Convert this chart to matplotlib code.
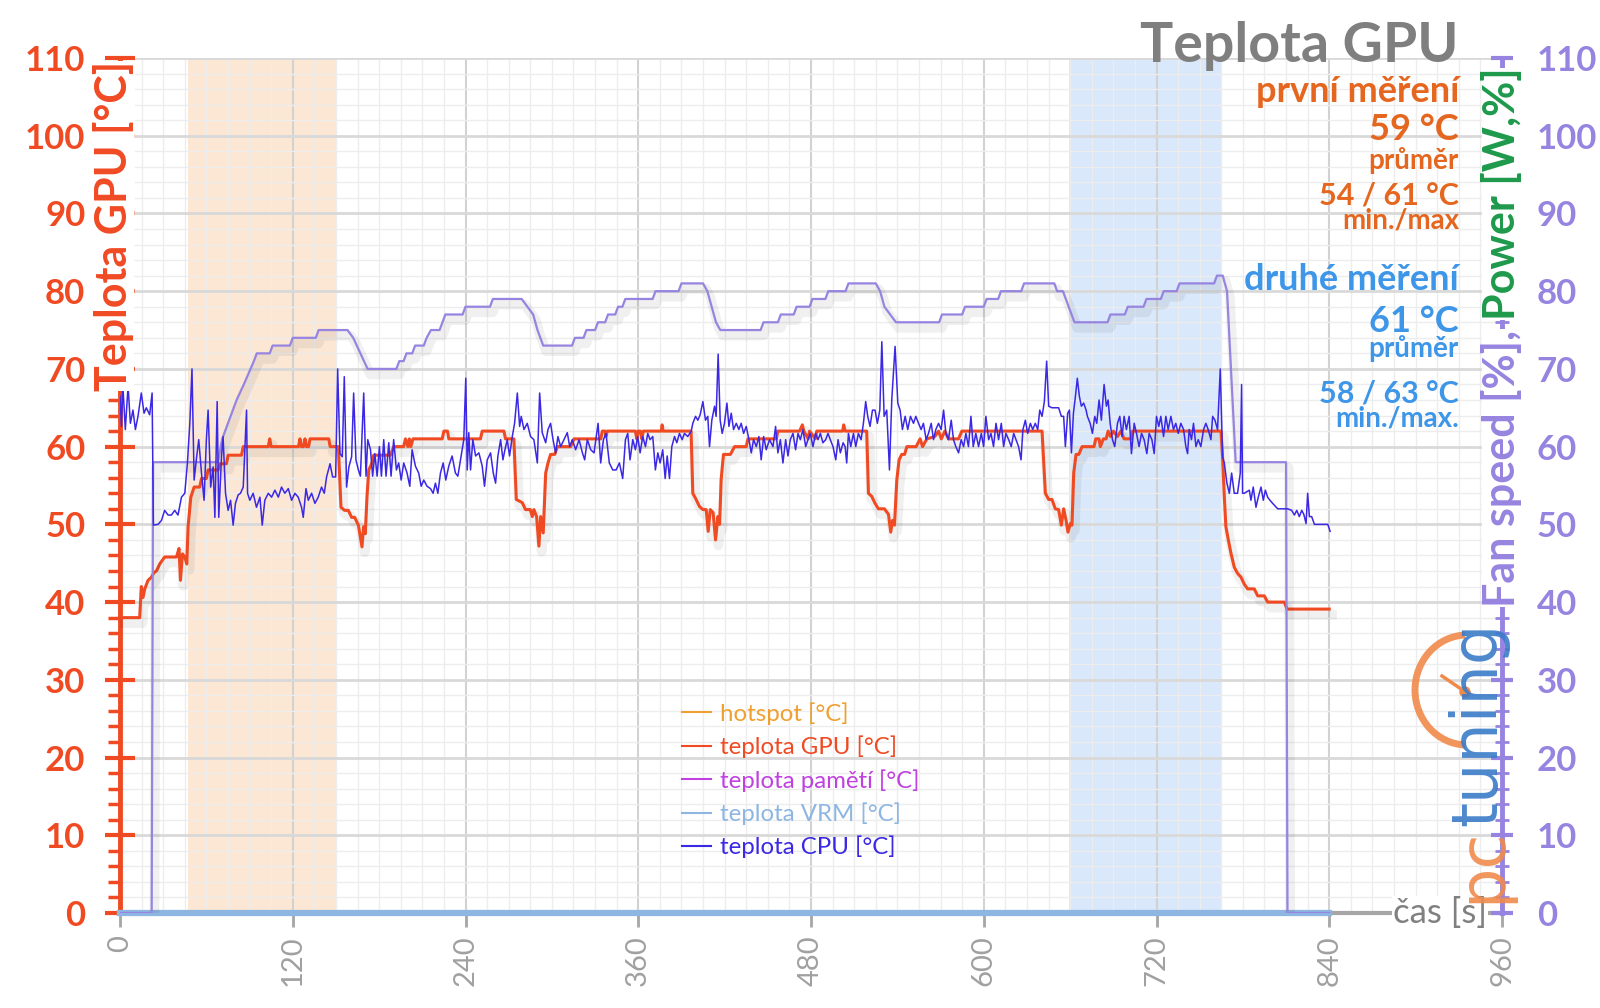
import matplotlib
matplotlib.use("Agg")
import matplotlib.pyplot as plt
import matplotlib.patheffects as pe
from matplotlib.patches import Arc, Circle
from matplotlib.lines import Line2D
from matplotlib.ticker import MultipleLocator
from matplotlib.transforms import IdentityTransform

plt.rcParams['font.family'] = ['Lato', 'DejaVu Sans']

# teplota GPU [°C] (čas s, hodnota)
gpu_pts = [(0, 38), (13.7, 38), (14.8, 42), (16, 40.6), (17.2, 41.7), (19.5, 42.8), (21.8, 43.2),
           (23.6, 43.8), (25.3, 44), (27.6, 44.9), (31, 45.8), (39.2, 45.8), (41, 46.9), (42, 42.8),
           (43.4, 46.2), (45, 45.8), (46.4, 44.9), (47.3, 49.7), (49.2, 53.5), (51.5, 54.8), (55.4, 54.8),
           (56.6, 55.9), (60, 55.9), (61.2, 57), (68.2, 57), (69.3, 57.8), (74, 57.8), (75.1, 58.9),
           (84.4, 58.9), (85.6, 60), (103, 60), (104, 61), (105, 60), (124, 60), (125, 61), (126, 60),
           (127.5, 60), (128.5, 61), (129.5, 60), (131, 60), (132, 61), (145, 61), (146, 60), (151.7, 60),
           (153.5, 52.2), (156, 51.8), (158.6, 51.8), (160.9, 50.9), (163, 50.9), (165.6, 49.9), (168.1, 47.1),
           (169.2, 49.7), (170.4, 48.8), (171.6, 53.6), (172.8, 57), (175, 57.9), (176.2, 58.9), (187.8, 58.9),
           (190.2, 60), (197, 60), (198.3, 61), (200, 60), (201, 61), (202, 60), (203.5, 61), (223.8, 61),
           (225, 62), (227.5, 62), (228.4, 61), (250.4, 61), (251.6, 62), (266.7, 62), (267.8, 61),
           (273.6, 61), (275.3, 53.2), (279.4, 52.8), (281.7, 51.9), (285, 51.9), (286.4, 51), (287.5, 51.9),
           (289.4, 51), (291, 47.2), (292.2, 51), (294, 48.9), (295.7, 56.6), (297.3, 57.9), (299.1, 59),
           (302, 59), (303.8, 60), (313, 60), (315.4, 61), (334, 61), (335, 62), (337, 62), (337.6, 61.3),
           (338.5, 62), (358, 62), (359, 61), (360, 62), (361.5, 62), (362.5, 61), (363.5, 62), (376, 62),
           (376.6, 62.8), (377.3, 62), (396.7, 62), (397.9, 54), (400.2, 53.2), (402.5, 52.3), (404.9, 51.9),
           (407.2, 51.9), (408.6, 49.1), (410, 51.9), (412, 51.5), (413.7, 48), (415.3, 51), (416.5, 50),
           (417.6, 55.8), (419.2, 59), (424, 59), (426.9, 60), (435, 60), (436.2, 61), (455.9, 61), (457, 62),
           (472.1, 62), (474, 62.8), (475, 62), (478, 61), (479, 62), (483, 61), (484, 62), (502, 62),
           (502.7, 62.8), (503.7, 62), (518.7, 62), (519.9, 54), (522.2, 53.6), (524.5, 52.7), (526.8, 52),
           (531, 52), (533.8, 51.3), (535.4, 49), (536.6, 50.5), (538, 49.9), (539.6, 55.7), (541.2, 58.3),
           (543, 59), (545, 59), (546.6, 60), (553, 60), (555.8, 61), (557.5, 60), (560.5, 61), (566, 61.3),
           (568.6, 62), (570.5, 61), (573, 62), (575.5, 61), (582.5, 61), (584.8, 62), (640.5, 62),
           (642.8, 54), (645.1, 53.2), (647.4, 53.2), (649.7, 52), (652, 51.9), (653.9, 49.9), (655.5, 52),
           (657.2, 50.5), (658.5, 49), (660.2, 50.1), (661.3, 49.9), (662.5, 56.6), (664.1, 59), (666, 59),
           (668.3, 60), (676.6, 60), (677.8, 61), (680.1, 61), (681, 60), (683.1, 61), (685, 61), (686.4, 62),
           (688, 61.3), (690.1, 62), (692.9, 61.3), (695.2, 62), (697.5, 61), (702.1, 61), (703.3, 62),
           (764.8, 62), (765.9, 58.7), (767.1, 53.6), (768.2, 49.7), (769.9, 48), (771.7, 46.3), (774, 44.5),
           (776.3, 43.7), (778.7, 43.2), (781, 42.3), (783.3, 41.7), (787.9, 41.7), (790.3, 40.8),
           (794.9, 40.8), (797.2, 40), (808.8, 40), (810.7, 39.1), (840, 39.1)]

# teplota CPU [°C]
cpu_pts = [(0, 66.5), (1, 62.6), (2, 67.8), (3.7, 62.2), (5.6, 67.8), (7.2, 63), (9, 64.7), (10.7, 62.2),
           (12.5, 63.9), (14.8, 66.9), (16.7, 64.3), (18.3, 65), (20.6, 64.1), (22.3, 66.9), (23.2, 49.9),
           (26.4, 50), (28.8, 50.5), (31, 51.8), (33.4, 51.2), (35.7, 51.2), (38, 51.8), (40.3, 51.2),
           (42.7, 53.5), (45, 54), (46.8, 57.8), (48.5, 63), (50, 70), (51.5, 55.7), (53, 58.3), (54.7, 60.9),
           (56.6, 56.6), (58.4, 53.1), (60, 60.9), (61.2, 64.7), (63, 54.8), (64.7, 57.4), (65.9, 50.9),
           (67.5, 65.8), (68.6, 50.9), (70.5, 58.7), (71.6, 61.3), (73.3, 54), (75.1, 51.8), (76.8, 53.1),
           (78.6, 49.9), (80.2, 52.7), (82.1, 53.8), (83.7, 54), (85.6, 54.8), (86.7, 59.6), (87.9, 64.7),
           (88.6, 54), (90.2, 53.1), (92.5, 54), (94.8, 52.2), (97.2, 53.5), (98.8, 49.9), (100.6, 53.1),
           (103, 54), (105.3, 53.5), (107.6, 54.4), (110, 53.5), (112.2, 54.8), (114.5, 54), (116.9, 54.6),
           (119.2, 53.1), (121.5, 54), (123.8, 53.5), (126.1, 52.2), (127.3, 50.9), (129.2, 54.6),
           (130.8, 53.1), (133.1, 54), (135.4, 52.7), (137.7, 53.5), (140, 54.8), (141.9, 54), (143.5, 56.1),
           (145.9, 57.8), (147.7, 56.1), (149.8, 56.1), (151.2, 70), (152.8, 59.1), (154.4, 58.7),
           (155.8, 69), (157.4, 54.8), (159, 57.4), (160.9, 58.7), (162.3, 66.9), (163.9, 58.3), (165.6, 57),
           (167, 56.2), (169.3, 66.9), (170.9, 56.2), (172.1, 60.9), (174, 59.6), (175.5, 56.2), (177, 59.1),
           (178.6, 56.2), (180.2, 60), (181.6, 56.2), (183.2, 60.9), (184.8, 56.2), (186.7, 60.5),
           (188.3, 56.2), (190.1, 60.9), (192, 57), (193.6, 57.9), (195.3, 55.7), (197.1, 57.9), (199.4, 56.6),
           (201.3, 54.9), (202.9, 59.6), (205.2, 57.5), (207.5, 56.6), (209.2, 54.9), (211, 55.7),
           (213.3, 54.9), (215.7, 54.6), (217.5, 54), (219.1, 55.3), (220.8, 54), (222.6, 56.6), (224.5, 57.9),
           (226.3, 55.7), (228.4, 57.5), (230.7, 58.8), (233, 56.6), (234.7, 56.2), (236.5, 58.3),
           (238.8, 60.9), (240.2, 68.8), (241.2, 57), (242.3, 61.8), (243.5, 57), (245.1, 60.9), (247, 58.8),
           (249.3, 59.2), (251.6, 57.5), (253.2, 54.9), (255.1, 58.3), (257.4, 59.2), (259.3, 56.6),
           (260.9, 55.3), (262.5, 58.8), (264.4, 60.9), (266, 58.3), (267.4, 59.6), (269, 60.9), (270.6, 58.8),
           (272.5, 61.3), (274.1, 63), (276, 66.9), (277.6, 62.6), (278.7, 63.9), (280.6, 62.2), (282.9, 63),
           (285.2, 61.3), (287.5, 60.9), (289.9, 57.9), (291.5, 66.9), (293.3, 61.8), (295.7, 60.5),
           (297.3, 62.2), (299.1, 63), (300.8, 60.9), (302.6, 59.2), (304.2, 61.3), (306.1, 60), (308.4, 60.9),
           (310.7, 61.8), (312.4, 60), (314.2, 60.9), (316.5, 59.6), (318.9, 60.9), (321.2, 59.2),
           (322.8, 58.3), (324.6, 60.9), (327, 59.6), (329.3, 59.2), (332.1, 63), (333.9, 57.9), (335.8, 60.9),
           (337.6, 61.7), (339.9, 57.9), (342.3, 57), (344.6, 57), (346.9, 57.9), (349.2, 55.9), (351.1, 60.9),
           (352.7, 61.7), (354.3, 58.3), (356.2, 60.9), (358, 59.6), (359.6, 61.3), (361.3, 59.2),
           (363.1, 61.3), (365, 60), (366.6, 61.7), (368.2, 60.9), (370.1, 61.3), (371.9, 57), (373.6, 59.2),
           (375.2, 57.9), (377, 59.6), (378.7, 55.9), (380.1, 58.8), (381.7, 55.9), (383.3, 60), (385.2, 61.3),
           (386.8, 60.5), (388.6, 61.7), (390.5, 60.9), (392.1, 61.7), (394.4, 61.3), (396.8, 62), (397.9, 63),
           (399.8, 63.9), (401.4, 63.4), (403, 64.1), (404.9, 65.8), (406.7, 63.4), (408.3, 63.9), (409.5, 60),
           (411.1, 63.4), (413, 65.2), (414.1, 63.9), (415.5, 71.9), (416.9, 63.4), (418.3, 61.7), (419.9, 63),
           (421.6, 65.6), (423, 62.6), (424.6, 64.3), (426.2, 62.2), (428.1, 63), (429.9, 62.2), (431.5, 63),
           (433.2, 61.7), (435, 62.6), (436.9, 60.9), (438.5, 59.2), (440.1, 60.9), (442, 60), (443.8, 61.3),
           (445.4, 58.3), (447.1, 61.3), (448.9, 59.6), (451.2, 60.9), (453.6, 60), (455.4, 62.6), (457, 59.2),
           (458.7, 60.9), (460.5, 57.9), (462.4, 60.9), (464, 58.8), (465.6, 60.9), (467.5, 61.7),
           (469.3, 59.6), (471, 61.7), (472.6, 60.9), (474.4, 62.2), (476.3, 60), (477.9, 60.9), (479.5, 61.7),
           (481.4, 60), (483.2, 61.7), (484.9, 60.9), (486.5, 61.7), (488.3, 60.5), (490.2, 60.9),
           (491.8, 61.7), (493.4, 60.9), (495.3, 60), (497.2, 58.3), (498.8, 60.9), (500.4, 59.2),
           (502.3, 60.5), (503.7, 60), (504.8, 57.9), (506, 61.7), (507.6, 60), (509.5, 61.7), (511.1, 60),
           (512.9, 61.7), (514.8, 60.9), (516.4, 63), (518, 65.8), (519.4, 63.9), (521, 62.6), (522.7, 64.7),
           (524.5, 64.7), (526.1, 63), (527.8, 64.7), (529.2, 73.5), (530.8, 63.9), (532.6, 64.7), (534.5, 57),
           (536.1, 66), (538.4, 72.9), (540.3, 65.6), (541.9, 64.7), (543.5, 62.2), (545.4, 63.9),
           (547.2, 62.2), (549.1, 63.9), (551.2, 63), (552.8, 63.9), (554.7, 63), (556.5, 62.2), (558.1, 63),
           (560, 60.9), (561.6, 61.7), (563.5, 63), (565.1, 60.9), (566.7, 62.2), (568.6, 63), (570.4, 62.2),
           (572.1, 64.7), (573.7, 61.7), (575.5, 60.9), (577.4, 63.4), (579, 60.9), (580.6, 60), (582.5, 59.2),
           (584.3, 60.9), (586, 60), (587.6, 61.7), (589.4, 60), (591.1, 63.9), (592.7, 60), (594.5, 61.7),
           (596.4, 60), (598.3, 61.7), (599.9, 60), (601.5, 63.9), (603.4, 60.9), (605, 61.7), (606.8, 60),
           (608.5, 63), (610.3, 60.9), (612.2, 63), (613.8, 60), (615.4, 61.7), (617.3, 60.9), (619.1, 60),
           (620.8, 61.7), (622.4, 60.9), (624.2, 60), (625.9, 58.3), (627.2, 62.2), (628.9, 63.4),
           (630.5, 61.7), (632.4, 63), (634, 62.2), (635.8, 63), (637.5, 62.2), (638.9, 64.7), (640.5, 63.9),
           (642.1, 65.8), (643.7, 71), (645.1, 65.2), (647.4, 65), (652, 65), (653.9, 63.9), (655.5, 63.9),
           (656.7, 60), (658.3, 64.3), (659.5, 64.7), (660.9, 59.2), (662.3, 64.3), (663.7, 66.5), (665, 68.8),
           (666.4, 66.5), (667.8, 65.2), (669.4, 65.6), (671.1, 64.7), (672, 63.9), (673.9, 63), (675.5, 61.7),
           (677.1, 63.9), (678.5, 63), (680.1, 66), (681.7, 63.4), (683.6, 68), (685.2, 65.2), (686.4, 66),
           (687.8, 63), (689.4, 60.9), (691, 60), (692.9, 63), (694.5, 63.9), (696.1, 61.3), (697.5, 63.9),
           (699.1, 62.2), (701, 63.9), (702.6, 59.1), (704.5, 63), (706.1, 61.7), (707.9, 60), (709.6, 61.7),
           (711.4, 60.9), (713.3, 59.1), (714.9, 61.7), (716.8, 60.9), (718.4, 59.1), (720, 63.9),
           (721.6, 62.6), (723, 63.9), (724.9, 61.3), (726.5, 63.9), (728.1, 62.2), (730, 63.9), (731.8, 62.2),
           (733.4, 63), (735.1, 61.7), (736.9, 63), (738.8, 62.2), (740.4, 60), (741.6, 59.1), (742.7, 62.2),
           (744.3, 60.9), (745.7, 63), (747.4, 60), (749, 60.9), (750.8, 60), (752.7, 62.2), (754.3, 63),
           (755.9, 62.2), (757.8, 60.9), (759, 63.9), (760.6, 63.4), (762.4, 62.2), (764.3, 70), (765.9, 58.7),
           (767.1, 57.9), (768.9, 55.3), (770.6, 54), (772.2, 56.6), (774, 54), (776.3, 54), (778.2, 56.6),
           (779.1, 68), (779.8, 54), (781, 54), (784.5, 54.4), (785.6, 53.1), (787.2, 54.8), (789.1, 52.2),
           (790.7, 53.5), (792.6, 54.8), (794.2, 53.1), (795.6, 54.4), (797.2, 53.5), (798.8, 53.1),
           (800.7, 52.7), (804.2, 52), (811.1, 52), (813.9, 51.8), (815.8, 51.2), (817.4, 51.8), (819.2, 51),
           (820.9, 51.8), (822.3, 51.3), (823.9, 50.1), (825, 54), (826.2, 51), (827.8, 51), (829.7, 50),
           (839, 50), (840.6, 49.1)]

# Fan speed [%] (pravá osa)
fan_pts = [(0, 0), (22, 0), (23, 58), (68, 58), (71, 61), (74, 62.5), (81, 66), (86, 68), (93, 71), (95, 72),
           (104, 72), (106, 73), (118, 73), (120, 74), (136, 74), (138, 75), (158, 75), (162, 74), (167, 72),
           (172, 70), (192, 70), (194, 71), (197, 71), (199, 72), (203, 72), (205, 73), (211, 73), (213, 74),
           (216, 75), (222, 75), (224, 76), (226, 77), (238, 77), (240, 78), (257, 78), (259, 79), (279, 79),
           (283, 78), (287, 77), (290, 75), (294, 73), (314, 73), (316, 74), (322, 74), (324, 75), (330, 75),
           (332, 76), (337, 76), (339, 77), (344, 77), (346, 78), (349, 78), (351, 79), (370, 79), (372, 80),
           (388, 80), (390, 81), (405, 81), (408, 80), (411, 78), (414, 76), (417, 75), (445, 75), (447, 76),
           (457, 76), (459, 77), (468, 77), (470, 78), (479, 78), (481, 79), (490, 79), (492, 80), (504, 80),
           (506, 81), (525, 81), (528, 80), (531, 78), (535, 77), (539, 76), (569, 76), (571, 77), (585, 77),
           (587, 78), (600, 78), (602, 79), (610, 79), (612, 80), (626, 80), (628, 81), (649, 81), (651, 80),
           (655, 80), (658, 78.5), (663, 76), (686, 76), (688, 77), (698, 77), (700, 78), (711, 78), (713, 79),
           (723, 79), (725, 80), (734, 80), (736, 81), (760, 81), (762, 82), (766, 82), (769, 80), (775, 58),
           (810, 58), (811, 0), (840, 0)]

# teplota VRM [°C]
vrm_t = [0, 840]
vrm_v = [0, 0]

shade_first = (47.5, 150.5)
shade_second = (659.5, 765)

RED = '#F04A23'
PURPLE = '#9684E0'
CPU_C = '#3B28E4'
VRM_C = '#8DB6E2'
ORANGE_T = '#E5661E'
BLUE_T = '#3D96E8'
GREEN = '#1E9A4C'
GRAY = '#7F7F7F'

W, H = 1600, 1008
fig = plt.figure(figsize=(W / 100, H / 100), dpi=100)
ax = fig.add_axes([120 / W, 1 - 913 / H, (1502 - 120) / W, (913 - 58) / H])

ax.axvspan(*shade_first, color='#FCE7D4', zorder=0.3, lw=0)
ax.axvspan(*shade_second, color='#D9E8FA', zorder=0.3, lw=0)

shadow = [pe.SimpleLineShadow(offset=(2, -4), alpha=0.06, linewidth=7), pe.Normal()]

ax.plot(vrm_t, vrm_v, color=VRM_C, lw=4.5, zorder=3, clip_on=False)
gt, gv = zip(*gpu_pts)
ax.plot(gt, gv, color=RED, lw=2.2, zorder=4, path_effects=shadow)
ct, cv = zip(*cpu_pts)
ax.plot(ct, cv, color=CPU_C, lw=1.1, zorder=5)
ft, fv = zip(*fan_pts)
ax.plot(ft, fv, color=PURPLE, lw=1.6, zorder=4.5, path_effects=shadow)

ax.set_xlim(0, 960)
ax.set_ylim(0, 110)
ax.set_axisbelow(True)
ax.xaxis.set_major_locator(MultipleLocator(120))
ax.xaxis.set_minor_locator(MultipleLocator(15))
ax.yaxis.set_major_locator(MultipleLocator(10))
ax.yaxis.set_minor_locator(MultipleLocator(2))
ax.grid(which='minor', color='#EDEDED', lw=1)
ax.grid(which='major', axis='y', color='#D9D9D9', lw=2)
ax.grid(which='major', axis='x', color='#D2D2D2', lw=1.5)

ax.spines['top'].set_visible(False)
ax.spines['right'].set_visible(False)
ax.spines['left'].set_color(RED)
ax.spines['left'].set_linewidth(3.5)
ax.spines['bottom'].set_color('#A6A6A6')
ax.spines['bottom'].set_linewidth(3)

ax.tick_params(axis='y', which='major', direction='inout', length=22, width=3, color=RED,
               labelcolor=RED, labelsize=25, pad=14)
ax.tick_params(axis='y', which='minor', direction='out', length=9, width=2.5, color=RED)
ax.tick_params(axis='x', which='major', direction='out', length=10, width=2, color='#A6A6A6',
               labelcolor='#A0A0A0', labelsize=21, labelrotation=90, pad=6)
ax.tick_params(axis='x', which='minor', length=0)
for lab in ax.get_yticklabels():
    lab.set_fontweight('bold')

ax2 = ax.twinx()
ax2.set_ylim(0, 110)
ax2.yaxis.set_major_locator(MultipleLocator(10))
ax2.yaxis.set_minor_locator(MultipleLocator(2))
for s in ['top', 'left', 'bottom']:
    ax2.spines[s].set_visible(False)
ax2.spines['right'].set_color(PURPLE)
ax2.spines['right'].set_linewidth(3.5)
ax2.tick_params(axis='y', which='major', direction='inout', length=16, width=3, color=PURPLE,
                labelcolor=PURPLE, labelsize=25, pad=17)
ax2.tick_params(axis='y', which='minor', direction='inout', length=10, width=2, color=PURPLE)
for lab in ax2.get_yticklabels():
    lab.set_fontweight('bold')

# axis titles (cover the spines, as in the original)
box = dict(facecolor='white', edgecolor='none', pad=0)
fig.text(114 / W, 1 - 226 / H, 'Teplota GPU [°C]', rotation=90, color=RED, fontsize=31,
         fontweight='bold', ha='center', va='center', bbox=box)
fig.text(1502 / W, 1 - 194 / H, 'Power [W,%]', rotation=90, color=GREEN, fontsize=31,
         fontweight='bold', ha='center', va='center', bbox=box)
fig.text(1502 / W, 1 - 468 / H, 'Fan speed [%],', rotation=90, color=PURPLE, fontsize=31,
         fontweight='bold', ha='center', va='center', bbox=box)
fig.text(1440 / W, 1 - 913 / H, 'čas [s]', color='#808080', fontsize=25, ha='center', va='center',
         bbox=dict(facecolor='white', edgecolor='none', pad=1))

# headline + summary
RX = 1459 / W
fig.text(RX, 1 - 46 / H, 'Teplota GPU', color=GRAY, fontsize=40, fontweight='bold', ha='right', va='center')
fig.text(RX, 1 - 92 / H, 'první měření', color=ORANGE_T, fontsize=26, fontweight='bold', ha='right', va='center')
fig.text(RX, 1 - 130 / H, '59 °C', color=ORANGE_T, fontsize=26, fontweight='bold', ha='right', va='center')
fig.text(RX, 1 - 161 / H, 'průměr', color=ORANGE_T, fontsize=20, fontweight='bold', ha='right', va='center')
fig.text(RX, 1 - 196 / H, '54 / 61 °C', color=ORANGE_T, fontsize=22, fontweight='bold', ha='right', va='center')
fig.text(RX, 1 - 221 / H, 'min./max', color=ORANGE_T, fontsize=20, fontweight='bold', ha='right', va='center')
fig.text(RX, 1 - 280 / H, 'druhé měření', color=BLUE_T, fontsize=26, fontweight='bold', ha='right', va='center')
fig.text(RX, 1 - 321 / H, '61 °C', color=BLUE_T, fontsize=26, fontweight='bold', ha='right', va='center')
fig.text(RX, 1 - 349 / H, 'průměr', color=BLUE_T, fontsize=20, fontweight='bold', ha='right', va='center')
fig.text(RX, 1 - 394 / H, '58 / 63 °C', color=BLUE_T, fontsize=22, fontweight='bold', ha='right', va='center')
fig.text(RX, 1 - 418 / H, 'min./max.', color=BLUE_T, fontsize=20, fontweight='bold', ha='right', va='center')

# legend
leg_names = ['hotspot [°C]', 'teplota GPU [°C]', 'teplota pamětí [°C]', 'teplota VRM [°C]', 'teplota CPU [°C]']
leg_colors = ['#F0A030', RED, '#C040E0', VRM_C, CPU_C]
handles = [Line2D([], [], color=c, lw=1.5) for c in leg_colors]
leg = fig.legend(handles, leg_names, loc='upper left', bbox_to_anchor=(682 / W, 1 - 702 / H),
                 frameon=False, fontsize=17.3, handlelength=1.2, handletextpad=0.4, labelspacing=0.45,
                 borderaxespad=0, borderpad=0)
for txt, c in zip(leg.get_texts(), leg_colors):
    txt.set_color(c)

# pctuning logo
fig.text(1478 / W, 1 - 826 / H, 'tuning', rotation=90, color='#3A7BC8', fontsize=46, alpha=0.9,
         family='DejaVu Sans', ha='center', va='bottom')
fig.text(1482 / W, 1 - 903 / H, 'pc', rotation=90, color='#F08A4B', fontsize=46, alpha=0.9,
         family='DejaVu Sans', ha='center', va='bottom')
fig.patches.append(Arc((1467, H - 690), 104, 110, theta1=92, theta2=268, color='#F08A4B', lw=5,
                       transform=IdentityTransform(), alpha=0.9))
fig.lines.append(Line2D([1442, 1464], [H - 676, H - 691], color='#F08A4B', lw=2.5,
                        transform=IdentityTransform()))
fig.patches.append(Circle((1465, H - 692), 5, color='#F08A4B', transform=IdentityTransform()))

fig.savefig('out.png', dpi=100)
